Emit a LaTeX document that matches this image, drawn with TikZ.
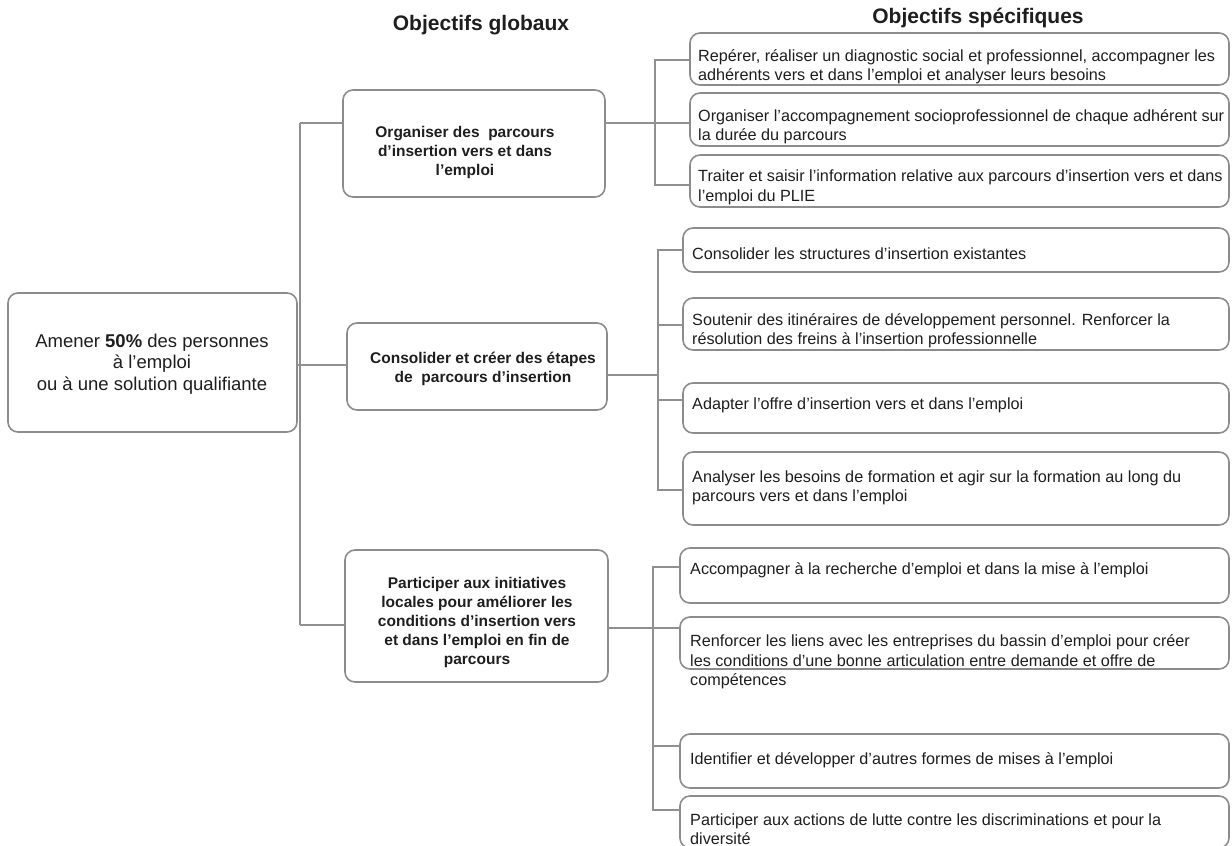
\documentclass[tikz,border=0pt]{standalone}
\usepackage{fontspec}
\setmainfont{Liberation Sans}
\definecolor{boxgray}{HTML}{8C8C8C}
\definecolor{linegray}{HTML}{909090}
\definecolor{ink}{HTML}{1E1E1E}
\tikzset{
  gbox/.style={draw=boxgray, line width=1.6pt, rounded corners=10pt, inner sep=0pt},
  conn/.style={draw=linegray, line width=1.5pt},
  rtext/.style={text=ink, anchor=west, align=left, inner sep=0pt, font=\fontsize{16.2}{19.5}\selectfont},
  mtext/.style={text=ink, align=center, inner sep=0pt, font=\bfseries\fontsize{15.5}{19}\selectfont},
  ltext/.style={text=ink, align=center, inner sep=0pt, font=\fontsize{18.5}{21.5}\selectfont},
  ttext/.style={text=ink, inner sep=0pt, font=\bfseries\fontsize{21}{25}\selectfont},
}
\begin{document}
\begin{tikzpicture}[x=1pt,y=-1pt]
\useasboundingbox (0,0) rectangle (1232,846);
% titles
\node[ttext] (t1) at (481,25) {Objectifs globaux};
\node[ttext] (t2) at (978,18) {Objectifs spécifiques};
% left box
\node[gbox, minimum width=289pt, minimum height=139pt] (L) at (152.5,362.5) {};
\node[ltext] (Lt) at (152,364) {Amener \textbf{50\%} des personnes\\à l’emploi\\ou à une solution qualifiante};
% global boxes
\node[gbox, minimum width=262pt, minimum height=107pt] (G1) at (474,143.5) {};
\node[mtext] (G1t) at (465,152) {Organiser des\ \ parcours\\d'insertion vers et dans\\l’emploi};
\node[gbox, minimum width=260pt, minimum height=87pt] (G2) at (477,366.5) {};
\node[mtext] (G2t) at (483,368.5) {Consolider et créer des étapes\\de\ \ parcours d'insertion};
\node[gbox, minimum width=263pt, minimum height=132pt] (G3) at (476.5,616) {};
\node[mtext] (G3t) at (477,622.5) {Participer aux initiatives\\locales pour améliorer les\\conditions d'insertion vers\\et dans l’emploi en fin de\\parcours};
% specific boxes group 1 (x 690-1229)
\node[gbox, minimum width=539pt, minimum height=52pt] (S1a) at (959.5,59) {};
\node[rtext] (S1at) at (698,66.5) {Repérer, réaliser un diagnostic social et professionnel, accompagner les\\adhérents vers et dans l'emploi et analyser leurs besoins};
\node[gbox, minimum width=539pt, minimum height=53pt] (S1b) at (959.5,119.5) {};
\node[rtext] (S1bt) at (698,126.5) {Organiser l’accompagnement socioprofessionnel de chaque adhérent sur\\la durée du parcours};
\node[gbox, minimum width=539pt, minimum height=52pt] (S1c) at (959.5,181) {};
\node[rtext] (S1ct) at (698,187.5) {Traiter et saisir l'information relative aux parcours d’insertion vers et dans\\l'emploi du PLIE};
% group 2 (x 683-1229)
\node[gbox, minimum width=546pt, minimum height=44pt] (S2a) at (956,250) {};
\node[rtext] (S2at) at (692,254) {Consolider les structures d’insertion existantes};
\node[gbox, minimum width=546pt, minimum height=52pt] (S2b) at (956,324) {};
\node[rtext] (S2bt) at (692,330.5) {Soutenir des itinéraires de développement personnel. Renforcer la\\résolution des freins à l'insertion professionnelle};
\node[gbox, minimum width=546pt, minimum height=50pt] (S2c) at (956,408) {};
\node[rtext] (S2ct) at (692,405) {Adapter l’offre d’insertion vers et dans l'emploi};
\node[gbox, minimum width=546pt, minimum height=73pt] (S2d) at (956,488.5) {};
\node[rtext] (S2dt) at (692,488) {Analyser les besoins de formation et agir sur la formation au long du\\parcours vers et dans l'emploi};
% group 3 (x 680-1229)
\node[gbox, minimum width=549pt, minimum height=55pt] (S3a) at (954.5,575.5) {};
\node[rtext] (S3at) at (690,570) {Accompagner à la recherche d’emploi et dans la mise à l'emploi};
\node[gbox, minimum width=549pt, minimum height=52pt] (S3b) at (954.5,643) {};
\node[rtext] (S3bt) at (690,662) {Renforcer les liens avec les entreprises du bassin d’emploi pour créer\\les conditions d’une bonne articulation entre demande et offre de\\compétences};
\node[gbox, minimum width=549pt, minimum height=54pt] (S3c) at (954.5,761) {};
\node[rtext] (S3ct) at (690,760) {Identifier et développer d’autres formes de mises à l'emploi};
\node[gbox, minimum width=549pt, minimum height=52pt] (S3d) at (954.5,822) {};
\node[rtext] (S3dt) at (690,829) {Participer aux actions de lutte contre les discriminations et pour la\\diversité};
% spine coordinates
\coordinate (sp1) at (300,123);
\coordinate (sp2) at (300,365);
\coordinate (sp3) at (300,625);
\coordinate (v1) at (655,123);
\coordinate (v2) at (658,375);
\coordinate (v3) at (653,628);
% main spine
\draw[conn] (sp1) -- (sp3);
\draw[conn] (L.east |- sp2) -- (sp2);
\draw[conn] (sp1) -- (G1.west |- sp1);
\draw[conn] (sp2) -- (G2.west |- sp2);
\draw[conn] (sp3) -- (G3.west |- sp3);
% group 1
\draw[conn] (G1.east |- v1) -- (v1);
\draw[conn] (S1a.west |- 0,60) -| (655,185) -- (S1c.west |- 0,185);
\draw[conn] (v1) -- (S1b.west |- v1);
% group 2
\draw[conn] (G2.east |- v2) -- (v2);
\draw[conn] (S2a.west |- 0,250) -| (658,490) -- (S2d.west |- 0,490);
\draw[conn] (658,325) -- (S2b.west |- 0,325);
\draw[conn] (658,400) -- (S2c.west |- 0,400);
% group 3
\draw[conn] (G3.east |- v3) -- (v3);
\draw[conn] (S3a.west |- 0,567) -| (653,810) -- (S3d.west |- 0,810);
\draw[conn] (v3) -- (S3b.west |- v3);
\draw[conn] (653,746) -- (S3c.west |- 0,746);
\end{tikzpicture}
\end{document}
